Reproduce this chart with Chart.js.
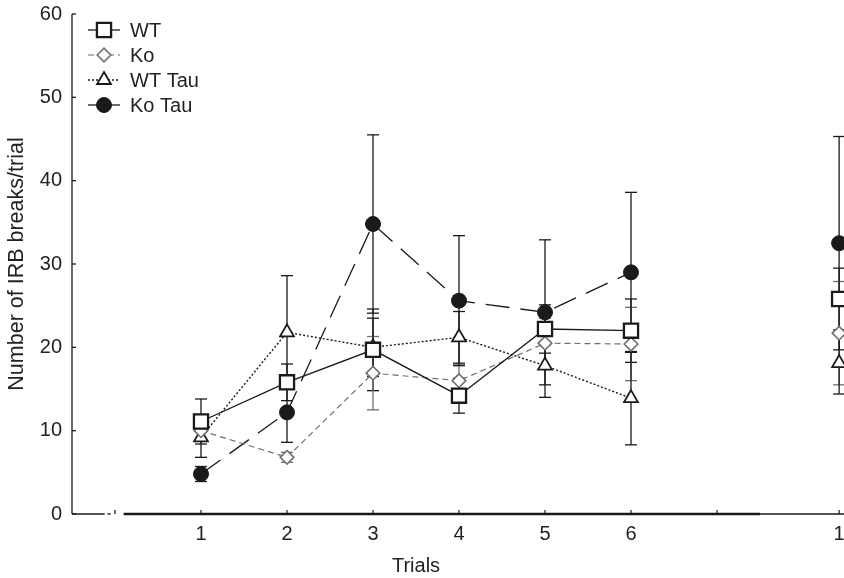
<!DOCTYPE html>
<html>
<head>
<meta charset="utf-8">
<script src="https://cdn.jsdelivr.net/npm/chart.js@4.4.1/dist/chart.umd.min.js"></script>
<style>
html,body{margin:0;padding:0;background:#fff;overflow:hidden;width:844px;height:578px;}
canvas{display:block;}
</style>
</head>
<body>
<canvas id="c" width="880" height="578"></canvas>
<script>
// ---- data ----
const xPositions = [1, 2, 3, 4, 5, 6, 8.42];
const xTickValues = [1, 2, 3, 4, 5, 6, 7, 8.42];
const xTickLabels = ['1', '2', '3', '4', '5', '6', '', '1'];
const yTickValues = [0, 10, 20, 30, 40, 50, 60];
const seriesNames = ['WT', 'Ko', 'WT Tau', 'Ko Tau'];
const wt       = [11.1, 15.8, 19.7, 14.2, 22.2, 22.0, 25.8];
const wtErr    = [2.7, 2.2, 4.9, 2.1, 2.9, 3.8, 3.7];
const ko       = [10.0, 6.8, 16.9, 16.0, 20.5, 20.4, 21.7];
const koErr    = [1.6, 0.6, 4.4, 1.9, 3.0, 4.4, 6.2];
const wtTau    = [9.2, 21.8, 20.0, 21.2, 17.8, 13.9, 18.1];
const wtTauErr = [2.4, 6.8, 3.5, 3.1, 3.8, 5.6, 3.7];
const koTau    = [4.8, 12.2, 34.8, 25.6, 24.2, 29.0, 32.5];
const koTauErr = [0.9, 3.6, 10.7, 7.8, 8.7, 9.6, 12.8];

const X_MIN = -0.5;
const PX_PER_TRIAL = 86;
const FONT = '"Liberation Sans", Arial, sans-serif';
const BLACK = '#1a1a1a';
const GRAY = '#6f6f6f';

const styles = [
  {color: BLACK, dash: [], width: 1.3, shape: 'rect', radius: 10, fill: '#fff', bw: 2.3, errColor: BLACK},
  {color: GRAY, dash: [6, 4], width: 1.2, shape: 'rectRot', radius: 6.8, fill: '#fff', bw: 1.6, errColor: GRAY},
  {color: BLACK, dash: [2, 2], width: 1.4, shape: 'triangle', radius: 8, fill: '#fff', bw: 1.8, errColor: BLACK},
  {color: BLACK, dash: [24, 11], width: 1.3, shape: 'circle', radius: 7.5, fill: BLACK, bw: 1, errColor: BLACK}
];
const values = [wt, ko, wtTau, koTau];
const errors = [wtErr, koErr, wtTauErr, koTauErr];

const datasets = seriesNames.map((name, k) => ({
  label: name,
  data: xPositions.map((x, i) => ({x: x, y: values[k][i]})),
  borderColor: styles[k].color,
  borderWidth: styles[k].width,
  borderDash: styles[k].dash,
  pointStyle: styles[k].shape,
  pointRadius: styles[k].radius,
  pointBackgroundColor: styles[k].fill,
  pointBorderColor: styles[k].color,
  pointBorderWidth: styles[k].bw,
  tension: 0,
  fill: false,
  segment: {
    borderColor: c => (c.p1DataIndex === xPositions.length - 1 ? 'rgba(0,0,0,0)' : undefined)
  }
}));

function drawMarker(ctx, s, x, y) {
  ctx.save();
  ctx.setLineDash([]);
  ctx.lineWidth = s.bw;
  ctx.strokeStyle = s.color;
  ctx.fillStyle = s.fill;
  ctx.beginPath();
  const r = s.radius;
  if (s.shape === 'rect') {
    const h = r * Math.SQRT1_2;
    ctx.rect(x - h, y - h, 2 * h, 2 * h);
  } else if (s.shape === 'rectRot') {
    ctx.moveTo(x - r, y); ctx.lineTo(x, y - r); ctx.lineTo(x + r, y); ctx.lineTo(x, y + r); ctx.closePath();
  } else if (s.shape === 'triangle') {
    ctx.moveTo(x, y - r);
    ctx.lineTo(x + r * Math.cos(Math.PI / 6), y + r * 0.5);
    ctx.lineTo(x - r * Math.cos(Math.PI / 6), y + r * 0.5);
    ctx.closePath();
  } else {
    ctx.arc(x, y, r, 0, Math.PI * 2);
  }
  ctx.fill();
  ctx.stroke();
  ctx.restore();
}

function seg(ctx, x1, y1, x2, y2) {
  ctx.beginPath(); ctx.moveTo(x1, y1); ctx.lineTo(x2, y2); ctx.stroke();
}

const customPlugin = {
  id: 'custom',
  afterLayout(chart) {
    // keep a fixed pixel spacing per trial regardless of layout padding
    const s = chart.scales.x;
    s.max = X_MIN + (s.right - s.left) / PX_PER_TRIAL;
    s.configure();
  },
  beforeDatasetsDraw(chart) {
    const ctx = chart.ctx;
    const x = chart.scales.x, y = chart.scales.y;
    ctx.save();
    ctx.strokeStyle = BLACK;
    ctx.setLineDash([]);
    const y0 = y.getPixelForValue(0);
    const xl = x.getPixelForValue(-0.5);
    // y axis
    ctx.lineWidth = 1.3;
    seg(ctx, xl, y.getPixelForValue(60), xl, y0);
    yTickValues.forEach(v => { const p = y.getPixelForValue(v); seg(ctx, xl, p, xl + 4, p); });
    // x axis with break
    seg(ctx, xl, y0, x.getPixelForValue(-0.12), y0);
    seg(ctx, x.getPixelForValue(-0.09), y0, x.getPixelForValue(-0.05), y0);
    seg(ctx, x.getPixelForValue(0), y0, x.getPixelForValue(0), y0 - 4);
    seg(ctx, x.getPixelForValue(7.5), y0, chart.width, y0);
    ctx.lineWidth = 2.6;
    seg(ctx, x.getPixelForValue(0.1), y0, x.getPixelForValue(7.5), y0);
    ctx.lineWidth = 1.2;
    xTickValues.forEach(v => { const p = x.getPixelForValue(v); seg(ctx, p, y0, p, y0 - 4); });
    // error bars
    values.forEach((vals, k) => {
      ctx.strokeStyle = styles[k].errColor;
      ctx.lineWidth = 1.3;
      vals.forEach((v, i) => {
        const px = x.getPixelForValue(xPositions[i]);
        const t = y.getPixelForValue(v + errors[k][i]);
        const b = y.getPixelForValue(v - errors[k][i]);
        seg(ctx, px, t, px, b);
        seg(ctx, px - 6, t, px + 6, t);
        seg(ctx, px - 6, b, px + 6, b);
      });
    });
    ctx.restore();
  },
  afterDraw(chart) {
    const ctx = chart.ctx;
    const x = chart.scales.x, y = chart.scales.y;
    ctx.save();
    ctx.fillStyle = '#222';
    // axis titles
    ctx.font = '20px ' + FONT;
    ctx.textAlign = 'center';
    ctx.textBaseline = 'alphabetic';
    ctx.fillText('Trials', x.getPixelForValue(3.5), 572);
    ctx.save();
    ctx.translate(23, (y.getPixelForValue(0) + y.getPixelForValue(60)) / 2);
    ctx.rotate(-Math.PI / 2);
    ctx.font = '21.5px ' + FONT;
    ctx.fillText('Number of IRB breaks/trial', 0, 0);
    ctx.restore();
    // legend
    const rowY = [30, 55, 80, 105];
    seriesNames.forEach((name, k) => {
      const s = styles[k];
      const cy = rowY[k];
      ctx.save();
      ctx.strokeStyle = s.color;
      ctx.lineWidth = s.width;
      ctx.setLineDash(k === 3 ? [] : s.dash);
      seg(ctx, 88, cy, 120, cy);
      ctx.restore();
      drawMarker(ctx, s, 104, cy);
      ctx.fillStyle = '#222';
      ctx.font = '20px ' + FONT;
      ctx.textAlign = 'left';
      ctx.textBaseline = 'alphabetic';
      ctx.fillText(name, 130, cy + 7);
    });
    ctx.restore();
  }
};

new Chart(document.getElementById('c'), {
  type: 'line',
  data: {datasets: datasets},
  options: {
    responsive: false,
    animation: false,
    devicePixelRatio: 1,
    layout: {padding: {top: 14, left: 0, right: 0, bottom: 0}},
    plugins: {legend: {display: false}, tooltip: {enabled: false}},
    scales: {
      x: {
        type: 'linear',
        min: X_MIN,
        max: X_MIN + (880 - 72) / PX_PER_TRIAL,
        afterBuildTicks: s => { s.ticks = xTickValues.map(v => ({value: v})); },
        afterFit: s => { s.height = 64; s.paddingLeft = 0; s.paddingRight = 0; },
        ticks: {
          autoSkip: false, maxRotation: 0,
          callback: (v, i) => xTickLabels[i],
          font: {size: 20, family: FONT}, color: '#222', padding: 8
        },
        grid: {display: false, drawTicks: false},
        border: {display: false}
      },
      y: {
        min: 0, max: 60,
        afterBuildTicks: s => { s.ticks = yTickValues.map(v => ({value: v})); },
        afterFit: s => { s.width = 72; s.paddingTop = 0; s.paddingBottom = 0; },
        ticks: {font: {size: 20, family: FONT}, color: '#222', padding: 10},
        grid: {display: false, drawTicks: false},
        border: {display: false}
      }
    }
  },
  plugins: [customPlugin]
});
</script>
</body>
</html>
